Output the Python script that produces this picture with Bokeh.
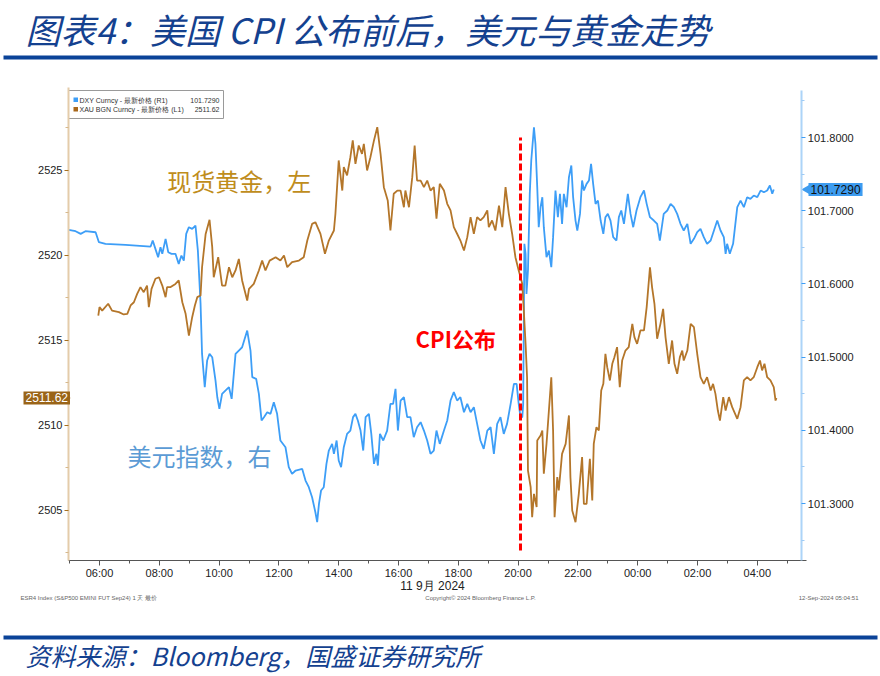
import math
from bokeh.plotting import figure
from bokeh.models import (Range1d, LinearAxis, FixedTicker, NumeralTickFormatter, Label)
from bokeh.embed import file_html
from bokeh.resources import INLINE

# ---------------- data (hours since 00:00 on 11 Sep 2024) ----------------
gold_time = [5.96, 6.00, 6.09, 6.29, 6.42, 6.65, 6.81, 6.93, 7.04, 7.15,
             7.26, 7.37, 7.48, 7.59, 7.65, 7.74, 7.87, 7.99, 8.10, 8.21,
             8.26, 8.38, 8.54, 8.65, 8.77, 8.88, 8.99, 9.10, 9.19, 9.27,
             9.38, 9.43, 9.55, 9.68, 9.77, 9.82, 9.97, 10.10, 10.21, 10.33,
             10.44, 10.55, 10.66, 10.77, 10.94, 11.00, 11.16, 11.33, 11.44, 11.55,
             11.69, 11.89, 12.05, 12.17, 12.28, 12.44, 12.67, 12.83, 12.95, 13.11,
             13.22, 13.39, 13.54,
             13.67, 13.84, 13.89, 14.00, 14.12, 14.17, 14.28, 14.39, 14.47, 14.56,
             14.67, 14.78, 14.84, 14.95, 15.06, 15.18, 15.29, 15.40, 15.51, 15.64,
             15.73, 15.84, 15.96, 16.07, 16.18, 16.23, 16.35, 16.46, 16.54, 16.62,
             16.74, 16.85, 16.96, 17.07, 17.18, 17.27, 17.38, 17.52, 17.63, 17.74,
             17.85, 17.96, 18.07, 18.19, 18.30, 18.41, 18.52, 18.63, 18.74, 18.85,
             18.97, 19.02, 19.13, 19.24, 19.36, 19.47, 19.58, 19.69, 19.80, 19.91,
             20.02, 20.08, 20.14,
             20.19, 20.25, 20.30, 20.33, 20.42, 20.47, 20.53, 20.62, 20.64, 20.75,
             20.81, 20.86, 20.95, 21.03, 21.11, 21.17, 21.22, 21.31, 21.36, 21.47,
             21.59, 21.70, 21.75, 21.81, 21.92, 22.03, 22.14, 22.20, 22.29, 22.40,
             22.48, 22.53, 22.62, 22.70, 22.78, 22.85, 22.92, 22.98, 23.07, 23.15,
             23.22, 23.31, 23.40, 23.48, 23.59, 23.70, 23.82, 23.89, 23.98, 24.09,
             24.21, 24.30, 24.41, 24.48, 24.56, 24.65, 24.76, 24.85, 24.93, 25.04,
             25.15, 25.23, 25.32, 25.41, 25.49, 25.54, 25.66, 25.77, 25.88, 25.99,
             26.10, 26.21, 26.32, 26.44, 26.52, 26.60, 26.68, 26.75, 26.86, 26.94,
             27.05, 27.16, 27.33, 27.44, 27.55, 27.66, 27.77, 27.88, 28.00, 28.09,
             28.16, 28.24, 28.33, 28.44, 28.55, 28.61, 28.64]

gold_price = [2516.47, 2516.96, 2516.76, 2517.16, 2516.76, 2516.67, 2516.53, 2516.57, 2517.06, 2517.25,
              2517.74, 2518.14, 2517.84, 2518.23, 2516.96, 2518.04, 2518.63, 2518.72, 2518.23, 2517.55,
              2518.14, 2518.14, 2518.33, 2518.53, 2517.25, 2516.57, 2515.29, 2516.37, 2517.06, 2517.55,
              2517.65, 2519.31, 2521.27, 2522.10, 2520.49, 2518.72, 2519.90, 2518.23, 2518.23, 2519.31,
              2518.72, 2519.12, 2519.80, 2518.53, 2517.35, 2518.04, 2518.33, 2519.12, 2519.70, 2519.12,
              2519.70, 2519.90, 2519.70, 2520.00, 2519.31, 2519.61, 2519.70, 2519.90, 2520.88, 2521.86,
              2521.96, 2521.27, 2520.10,
              2520.88, 2521.47, 2522.45, 2525.59, 2523.82, 2525.20, 2524.71, 2525.78, 2526.77, 2525.39,
              2526.47, 2525.98, 2526.57, 2525.00, 2525.78, 2526.77, 2527.55, 2525.98, 2524.02, 2523.24,
              2521.47, 2523.63, 2523.82, 2523.82, 2522.84, 2523.82, 2522.84, 2524.61, 2526.47, 2524.41,
              2524.41, 2524.02, 2524.41, 2523.82, 2524.02, 2522.16, 2524.22, 2523.82, 2523.04, 2522.65,
              2521.67, 2521.28, 2520.88, 2520.29, 2521.08, 2522.26, 2521.28, 2522.26, 2522.06, 2522.26,
              2522.65, 2521.67, 2522.06, 2521.47, 2522.94, 2521.67, 2524.02, 2522.45, 2521.28, 2519.90,
              2519.12, 2518.73, 2518.33,
              2516.77, 2514.80, 2512.84, 2507.35, 2506.37, 2504.61, 2505.98, 2505.20, 2509.12, 2509.41,
              2509.71, 2507.16, 2508.92, 2510.88, 2512.84, 2509.71, 2504.61, 2506.96, 2506.18, 2508.33,
              2508.92, 2510.59, 2506.96, 2505.00, 2504.31, 2505.98, 2508.14, 2505.39, 2505.39, 2508.04,
              2505.59, 2508.92, 2509.90, 2509.71, 2512.06, 2512.45, 2514.22, 2513.43, 2512.65, 2513.63,
              2514.02, 2514.61, 2512.26, 2513.82, 2514.41, 2514.61, 2515.98, 2515.20, 2514.80, 2515.59,
              2515.59, 2516.96, 2519.31, 2518.14, 2517.16, 2515.10, 2515.98, 2516.86, 2515.20, 2513.63,
              2515.00, 2513.63, 2513.04, 2514.02, 2514.41, 2513.82, 2514.41, 2515.98, 2515.78, 2514.22,
              2512.84, 2512.45, 2512.84, 2512.06, 2512.45, 2511.86, 2510.88, 2510.29, 2511.67, 2510.88,
              2511.67, 2511.08, 2510.39, 2511.08, 2512.65, 2512.84, 2512.65, 2512.84, 2513.43, 2513.82,
              2513.24, 2513.63, 2512.84, 2512.65, 2512.26, 2511.47, 2511.62]

dxy_time = [4.97, 5.20, 5.37, 5.53, 5.87, 5.98, 6.20, 6.87, 7.71, 7.78,
            7.87, 7.96, 8.04, 8.10, 8.21, 8.30, 8.41, 8.54, 8.65, 8.74,
            8.82, 8.90, 8.99, 9.10, 9.21, 9.29, 9.38, 9.43, 9.52, 9.60,
            9.68, 9.77, 9.88, 9.94, 10.01, 10.10, 10.21, 10.33, 10.42, 10.55,
            10.66, 10.77, 10.94, 11.05, 11.11, 11.24, 11.33, 11.42, 11.50, 11.61,
            11.72, 11.83, 11.94, 12.05, 12.22, 12.33, 12.44, 12.56, 12.78, 12.89,
            13.00, 13.11, 13.22, 13.28,
            13.34, 13.41, 13.50, 13.59, 13.67, 13.78, 13.84, 13.93, 14.00, 14.08,
            14.17, 14.28, 14.39, 14.48, 14.56, 14.64, 14.73, 14.82, 14.90, 15.01,
            15.09, 15.18, 15.26, 15.31, 15.38, 15.49, 15.62, 15.73, 15.82, 15.90,
            15.98, 16.07, 16.18, 16.29, 16.40, 16.51, 16.62, 16.74, 16.85, 16.96,
            17.07, 17.18, 17.27, 17.38, 17.52, 17.63, 17.74, 17.85, 17.96, 18.07,
            18.19, 18.30, 18.41, 18.52, 18.63, 18.74, 18.85, 18.97, 19.08, 19.19,
            19.30, 19.41, 19.52, 19.63, 19.75, 19.86, 19.95, 20.02, 20.08,
            20.14, 20.17, 20.21, 20.25, 20.28, 20.33, 20.39, 20.44, 20.53, 20.58,
            20.64, 20.69, 20.75, 20.81, 20.86, 20.95, 21.03, 21.11, 21.17, 21.25,
            21.33, 21.40, 21.47, 21.53, 21.62, 21.70, 21.78, 21.84, 21.92, 21.98,
            22.07, 22.14, 22.20, 22.29, 22.37, 22.44, 22.51, 22.59, 22.67, 22.76,
            22.85, 22.92, 23.00, 23.09, 23.18, 23.29, 23.37, 23.45, 23.54, 23.67,
            23.76, 23.85, 23.96, 24.09, 24.21, 24.30, 24.41, 24.54, 24.65, 24.74,
            24.87, 24.99, 25.10, 25.21, 25.32, 25.43, 25.54, 25.66, 25.77, 25.88,
            25.99, 26.10, 26.21, 26.32, 26.44, 26.55, 26.66, 26.77, 26.88, 26.94,
            26.99, 27.08, 27.19, 27.33, 27.44, 27.55, 27.66, 27.77, 27.88, 28.00,
            28.11, 28.22, 28.33, 28.42, 28.50, 28.55]

dxy_value = [101.6738, 101.6720, 101.6684, 101.6720, 101.6706, 101.6570, 101.6547, 101.6533, 101.6511, 101.6593,
             101.6479, 101.6365, 101.6502, 101.6411, 101.6615, 101.6433, 101.6411, 101.6411, 101.6274, 101.6388,
             101.6319, 101.6684, 101.6775, 101.6752, 101.6798, 101.6456, 101.5727, 101.5044, 101.4589, 101.4953,
             101.5044, 101.4999, 101.4680, 101.4452, 101.4293, 101.4498, 101.4543, 101.4589, 101.4430, 101.5044,
             101.5090, 101.5135, 101.5363, 101.5090, 101.4726, 101.4703, 101.4498, 101.4134, 101.4179, 101.4247,
             101.4225, 101.4384, 101.4225, 101.3860, 101.3769, 101.3496, 101.3405, 101.3451, 101.3473, 101.3314,
             101.3223, 101.3086, 101.2881, 101.2745,
             101.2996, 101.3178, 101.3223, 101.3542, 101.3724, 101.3815, 101.3679, 101.3861, 101.3588, 101.3497,
             101.3770, 101.3952, 101.3997, 101.4180, 101.4225, 101.4134, 101.3997, 101.3724, 101.4180, 101.4225,
             101.3952, 101.3542, 101.3679, 101.3519, 101.3952, 101.3861, 101.3997, 101.4362, 101.4362, 101.4567,
             101.3997, 101.4407, 101.4453, 101.4180, 101.4180, 101.3906, 101.4043, 101.4111, 101.3997, 101.3861,
             101.3679, 101.3724, 101.3997, 101.3815, 101.3997, 101.4134, 101.4407, 101.4521, 101.4407, 101.4453,
             101.4248, 101.4362, 101.4248, 101.4316, 101.4088, 101.3861, 101.3747, 101.3997, 101.4043, 101.3679,
             101.4088, 101.4180, 101.3952, 101.4088, 101.4362, 101.4635, 101.4635, 101.4362, 101.4180,
             101.4180, 101.4362, 101.6548, 101.6411, 101.5864, 101.6183, 101.7231, 101.7686, 101.8141, 101.7914,
             101.7322, 101.6775, 101.7048, 101.7185, 101.6775, 101.6365, 101.6456, 101.6229, 101.6639, 101.7276,
             101.6912, 101.7231, 101.6821, 101.7231, 101.7048, 101.7458, 101.7618, 101.7185, 101.6866, 101.6730,
             101.6957, 101.7413, 101.7276, 101.7367, 101.7413, 101.7640, 101.7367, 101.7094, 101.7139, 101.6866,
             101.6684, 101.6912, 101.6957, 101.6866, 101.6639, 101.6593, 101.6912, 101.7003, 101.6821, 101.7231,
             101.6957, 101.6775, 101.7003, 101.7185, 101.7276, 101.7094, 101.6912, 101.6866, 101.6821, 101.6593,
             101.6957, 101.7003, 101.7094, 101.7048, 101.6957, 101.6821, 101.6730, 101.6821, 101.6548, 101.6616,
             101.6707, 101.6752, 101.6639, 101.6548, 101.6593, 101.6730, 101.6866, 101.6730, 101.6639, 101.6411,
             101.6548, 101.6411, 101.6548, 101.7048, 101.7139, 101.7048, 101.7185, 101.7162, 101.7208, 101.7185,
             101.7276, 101.7253, 101.7276, 101.7344, 101.7231, 101.7290]

cpi_hour = 20.08

x_tick_hours = [6, 8, 10, 12, 14, 16, 18, 20, 22, 24, 26, 28]
x_tick_labels = ["06:00", "08:00", "10:00", "12:00", "14:00", "16:00",
                 "18:00", "20:00", "22:00", "00:00", "02:00", "04:00"]
x_minor_hours = [5, 7, 9, 11, 13, 15, 17, 19, 21, 23, 25, 27, 29]
gold_ticks = [2505, 2510, 2515, 2520, 2525]
gold_minor = [2502.5, 2507.5, 2512.5, 2517.5, 2522.5, 2527.5]
dxy_ticks = [101.3, 101.4, 101.5, 101.6, 101.7, 101.8]
dxy_minor = [101.25, 101.35, 101.45, 101.55, 101.65, 101.75, 101.85]

legend_names = ["DXY Curncy - 最新价格 (R1)", "XAU BGN Curncy - 最新价格 (L1)"]

# ---------------- styles / geometry ----------------
GOLD = "#b4762a"
BLUE = "#3d9ef7"
NAVY = "#14418f"
RULE = "#0b4398"
TICKFONT = "Liberation Sans"
CJK = "Noto Sans CJK SC"
W, H = 880, 676

# plot panel: hours / prices -> canvas (frame covers the whole canvas)
X_START, X_END = 2.689, 32.120          # hours at canvas left / right edge
G_START, G_END = 2495.235, 2535.0       # gold price at canvas bottom / top
D_START, D_END = 101.0637, 101.9872     # DXY at canvas bottom / top
X_AX_LEFT, X_AX_RIGHT = 4.963, 29.49    # where the y axes stand (hours)
G_LO, G_HI = 2502.06, 2529.7            # vertical extent of the chart panel
D_LO, D_HI = 101.222, 101.864

p = figure(width=W, height=H, title=None,
           x_range=Range1d(X_START, X_END), y_range=Range1d(G_START, G_END),
           output_backend="svg", toolbar_location=None, min_border=0)
p.outline_line_color = None
p.grid.visible = False
p.background_fill_color = "white"
p.border_fill_color = "white"
p.extra_y_ranges = {"dxy": Range1d(D_START, D_END), "py": Range1d(H, 0)}
p.extra_x_ranges = {"px": Range1d(0, W)}

# x axis
xa = p.xaxis[0]
xa.fixed_location = G_LO
xa.bounds = (X_AX_LEFT, 29.65)
xa.ticker = FixedTicker(ticks=x_tick_hours, minor_ticks=x_minor_hours)
xa.major_label_overrides = {h: lab for h, lab in zip(x_tick_hours, x_tick_labels)}
xa.axis_line_color = "#555555"
xa.major_tick_line_color = "#555555"
xa.minor_tick_line_color = "#555555"
xa.major_tick_out = 5
xa.major_tick_in = 0
xa.minor_tick_out = 3
xa.minor_tick_in = 0
xa.major_label_standoff = 2
xa.major_label_text_font = TICKFONT
xa.major_label_text_font_size = "11px"
xa.major_label_text_color = "#222222"

# left (gold) axis
ya = p.yaxis[0]
ya.fixed_location = X_AX_LEFT
ya.bounds = (G_LO, G_HI + 0.2)
ya.ticker = FixedTicker(ticks=gold_ticks, minor_ticks=gold_minor)
ya.axis_line_color = "#e4ccaa"
ya.axis_line_width = 2
ya.major_tick_line_color = "#a8701e"
ya.minor_tick_line_color = "#d6b88c"
ya.major_tick_out = 4
ya.major_tick_in = 0
ya.minor_tick_out = 3
ya.minor_tick_in = 0
ya.major_label_standoff = 2
ya.major_label_text_font = TICKFONT
ya.major_label_text_font_size = "11px"
ya.major_label_text_color = "#222222"

# right (dxy) axis
ra = LinearAxis(y_range_name="dxy", fixed_location=X_AX_RIGHT, bounds=(D_LO, D_HI),
                ticker=FixedTicker(ticks=dxy_ticks, minor_ticks=dxy_minor),
                formatter=NumeralTickFormatter(format="0.0000"))
ra.axis_line_color = "#acd4f8"
ra.axis_line_width = 2
ra.major_tick_line_color = "#3d9ef7"
ra.minor_tick_line_color = "#9fcbf5"
ra.major_tick_out = 4
ra.major_tick_in = 0
ra.minor_tick_out = 3
ra.minor_tick_in = 0
ra.major_label_standoff = 2
ra.major_label_text_font = TICKFONT
ra.major_label_text_font_size = "11px"
ra.major_label_text_color = "#222222"
p.add_layout(ra, "right")

# series
p.line(dxy_time, dxy_value, y_range_name="dxy", line_color=BLUE, line_width=1.8)
p.line(gold_time, gold_price, line_color=GOLD, line_width=1.8)

# CPI release marker
p.segment(x0=[cpi_hour], y0=[2502.65], x1=[cpi_hour], y1=[2526.94],
          line_color="#ff0000", line_width=3, line_dash="7 3")

# ---- legend box (Bloomberg style) ----
p.quad(left=[68], right=[223], top=[90], bottom=[118], x_range_name="px", y_range_name="py",
       fill_color="white", line_color="#9a9a9a", line_width=1)
p.quad(left=[73, 73], right=[77.5, 77.5], top=[97, 106.5], bottom=[101.5, 111],
       x_range_name="px", y_range_name="py", fill_color=[BLUE, "#a8671a"], line_color=None)
for yy, name, val in [(99.5, legend_names[0], f"{dxy_value[-1]:.4f}"),
                      (109, legend_names[1], f"{gold_price[-1]:.2f}")]:
    p.add_layout(Label(x=79, y=yy, x_range_name="px", y_range_name="py", text=name,
                       text_font=TICKFONT, text_font_size="7px", text_color="#333333",
                       text_baseline="middle"))
    p.add_layout(Label(x=219, y=yy, x_range_name="px", y_range_name="py", text=val,
                       text_font=TICKFONT, text_font_size="7px", text_color="#333333",
                       text_baseline="middle", text_align="right"))

# ---- in-chart annotations ----
p.add_layout(Label(x=8.27, y=2524.41, text="现货黄金，左", text_font=CJK,
                   text_font_size="24px", text_color="#bf8d1c", text_baseline="middle"))
p.add_layout(Label(x=6.94, y=2508.24, text="美元指数，右", text_font=CJK,
                   text_font_size="24px", text_color="#5b9bd5", text_baseline="middle"))
p.add_layout(Label(x=16.57, y=2515.12, text="CPI公布", text_font=CJK, text_font_style="bold",
                   text_font_size="22px", text_color="#ff0000", text_baseline="middle"))

# ---- last-value tags ----
p.add_layout(Label(x=23, y=gold_price[-1], x_range_name="px", text=f"{gold_price[-1]:.2f}",
                   text_font=TICKFONT, text_font_size="12px", text_color="white",
                   text_baseline="middle", background_fill_color="#9a6417", padding=2))
p.scatter(x=[65], y=[gold_price[-1]], x_range_name="px", marker="triangle",
          angle=-math.pi / 2, size=9, fill_color="#9a6417", line_color=None)
p.add_layout(Label(x=808, y=dxy_value[-1], x_range_name="px", y_range_name="dxy",
                   text=f"{dxy_value[-1]:.4f}",
                   text_font=TICKFONT, text_font_size="12px", text_color="#111111",
                   text_baseline="middle", background_fill_color="#3d9cf0", padding=2))
p.scatter(x=[806], y=[dxy_value[-1]], x_range_name="px", y_range_name="dxy", marker="triangle",
          angle=math.pi / 2, size=9, fill_color="#3d9cf0", line_color=None)

# ---- axis caption and Bloomberg footnotes ----
p.add_layout(Label(x=432, y=585, x_range_name="px", y_range_name="py", text="11 9月 2024",
                   text_font=TICKFONT, text_font_size="12px", text_color="#222222",
                   text_baseline="middle", text_align="center"))
p.add_layout(Label(x=20, y=597, x_range_name="px", y_range_name="py",
                   text="ESR4 Index (S&P500 EMINI FUT Sep24) 1 天 最价",
                   text_font=TICKFONT, text_font_size="6px", text_color="#666666",
                   text_baseline="middle"))
p.add_layout(Label(x=480, y=597, x_range_name="px", y_range_name="py",
                   text="Copyright© 2024 Bloomberg Finance L.P.",
                   text_font=TICKFONT, text_font_size="6px", text_color="#666666",
                   text_baseline="middle", text_align="center"))
p.add_layout(Label(x=858, y=597, x_range_name="px", y_range_name="py",
                   text="12-Sep-2024 05:04:51",
                   text_font=TICKFONT, text_font_size="6px", text_color="#666666",
                   text_baseline="middle", text_align="right"))

# ---- report title, rules and source ----
p.add_layout(Label(x=25, y=28, x_range_name="px", y_range_name="py",
                   text="图表4：美国 CPI 公布前后，美元与黄金走势",
                   text_font=CJK, text_font_style="italic", text_font_size="35px",
                   text_color=NAVY, text_baseline="middle"))
p.quad(left=[3, 3], right=[877, 877], top=[55, 635], bottom=[59, 639],
       x_range_name="px", y_range_name="py", fill_color=RULE, line_color=None)
p.add_layout(Label(x=25, y=654, x_range_name="px", y_range_name="py",
                   text="资料来源：Bloomberg，国盛证券研究所",
                   text_font=CJK, text_font_style="italic", text_font_size="25px",
                   text_color=NAVY, text_baseline="middle"))

open("out.html", "w").write(file_html(p, INLINE))
